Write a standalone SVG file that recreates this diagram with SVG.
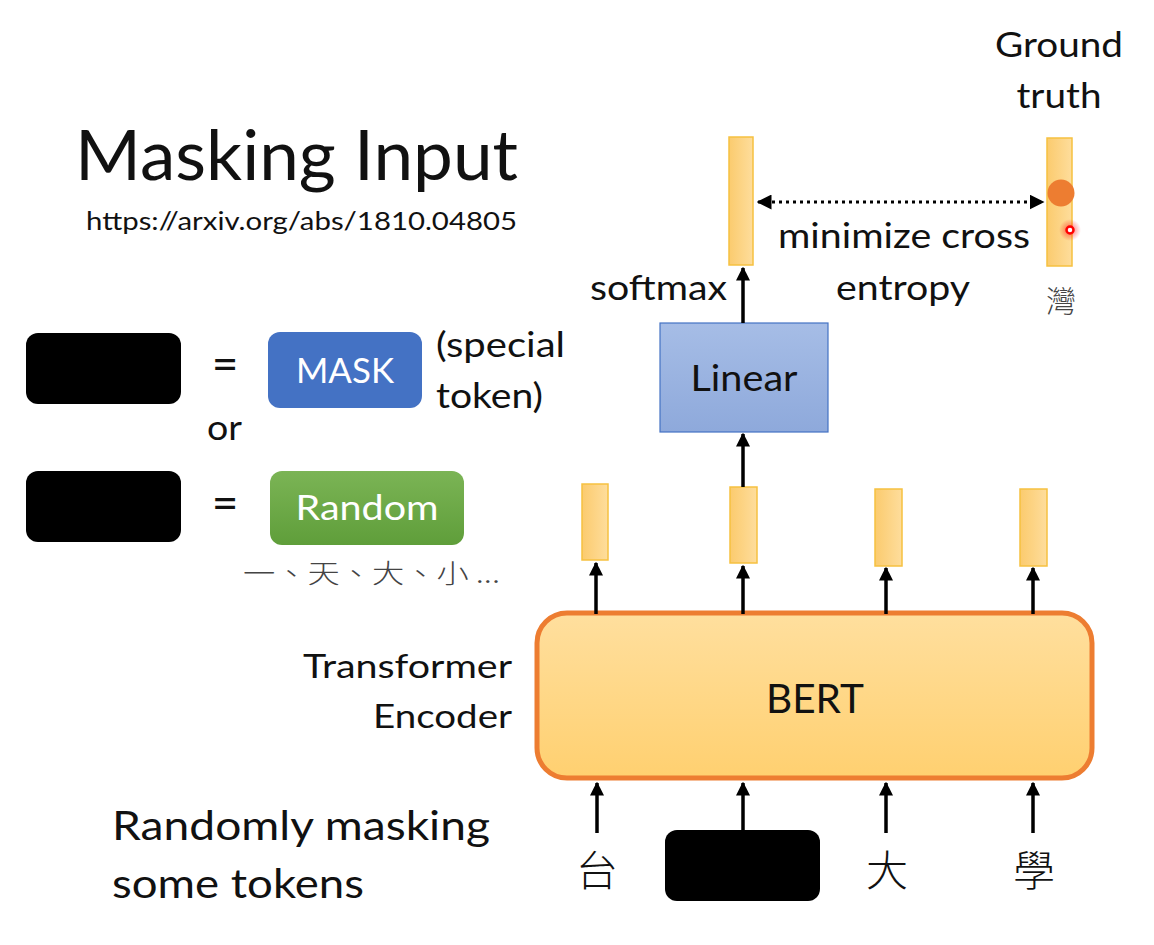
<svg xmlns="http://www.w3.org/2000/svg" width="1154" height="945" viewBox="0 0 1154 945">
<style>
text{font-family:Lato,"Open Sans","Noto Sans CJK TC",sans-serif;fill:#111}
.cjk{font-family:"Noto Sans CJK TC",sans-serif;font-weight:300}
.bar{fill:url(#barG);stroke:#F6C140;stroke-width:1.5}
.blk{fill:#000}
.con{stroke:#000;stroke-width:3.5;fill:none;marker-end:url(#ah)}
.wt{fill:#fff}
.eq{stroke:#111;stroke-width:3.5}
</style>
<defs>
<linearGradient id="barG" x1="0" y1="0" x2="1" y2="0"><stop offset="0" stop-color="#FBCB6E"/><stop offset="1" stop-color="#FEDD9C"/></linearGradient>
<linearGradient id="bertG" x1="0" y1="0" x2="0" y2="1"><stop offset="0" stop-color="#FFDF9E"/><stop offset="1" stop-color="#FFD070"/></linearGradient>
<linearGradient id="linG" x1="0" y1="0" x2="0" y2="1"><stop offset="0" stop-color="#A6BDE6"/><stop offset="1" stop-color="#8EA9DB"/></linearGradient>
<linearGradient id="rndG" x1="0" y1="0" x2="0" y2="1"><stop offset="0" stop-color="#7BB455"/><stop offset="1" stop-color="#5F9E3A"/></linearGradient>
<radialGradient id="glow"><stop offset="0.4" stop-color="#ff0000" stop-opacity="0.35"/><stop offset="1" stop-color="#ff0000" stop-opacity="0"/></radialGradient>
<marker id="ah" viewBox="0 0 10 10" refX="9" refY="5" markerWidth="4" markerHeight="4" orient="auto"><path d="M0,0L10,5L0,10z" fill="#000"/></marker>
<marker id="ad" viewBox="0 0 10 10" refX="9" refY="5" markerWidth="5" markerHeight="5" orient="auto-start-reverse"><path d="M0,0L10,5L0,10z" fill="#000"/></marker>
</defs>

<g id="title">
<text x="75" y="180" font-size="70" textLength="443" lengthAdjust="spacingAndGlyphs">Masking Input</text>
<text x="86" y="230" font-size="25" textLength="431" lengthAdjust="spacingAndGlyphs">https://arxiv.org/abs/1810.04805</text>
</g>

<g id="legend-mask">
<rect class="blk" x="26" y="333" width="155" height="71" rx="12"/>
<text x="225" y="380" font-size="46" text-anchor="middle">=</text>
<rect x="268" y="332" width="154" height="76" rx="12" fill="#4472C4"/>
<text class="wt" x="345" y="383" font-size="34" text-anchor="middle" textLength="98" lengthAdjust="spacingAndGlyphs">MASK</text>
<text x="436" y="357" font-size="34" textLength="129" lengthAdjust="spacingAndGlyphs">(special</text>
<text x="436" y="408" font-size="34" textLength="107" lengthAdjust="spacingAndGlyphs">token)</text>
</g>
<g id="legend-or"><text x="207" y="440" font-size="34" textLength="35" lengthAdjust="spacingAndGlyphs">or</text></g>
<g id="legend-random">
<rect class="blk" x="26" y="471" width="155" height="71" rx="12"/>
<text x="225" y="519" font-size="46" text-anchor="middle">=</text>
<rect x="270" y="471" width="194" height="74" rx="12" fill="url(#rndG)"/>
<text class="wt" x="367" y="520" font-size="34" text-anchor="middle" textLength="143" lengthAdjust="spacingAndGlyphs">Random</text>
<text class="cjk" x="243" y="583" font-size="26" style="fill:#444" textLength="257" lengthAdjust="spacingAndGlyphs">一、天、大、小 ...</text>
</g>

<g id="output-bar"><rect class="bar" x="729" y="137" width="24" height="128"/></g>
<g id="ground-truth">
<text x="1059" y="57" font-size="34" text-anchor="middle" textLength="128" lengthAdjust="spacingAndGlyphs">Ground</text>
<text x="1059" y="108" font-size="34" text-anchor="middle" textLength="85" lengthAdjust="spacingAndGlyphs">truth</text>
<rect class="bar" x="1047" y="138" width="25" height="128"/>
<circle cx="1061" cy="193" r="13.5" fill="#ED7D31"/>
<circle cx="1070" cy="230" r="11" fill="url(#glow)"/>
<circle cx="1070" cy="230" r="3.5" fill="#fff" stroke="#f00" stroke-width="2.5"/>
<text class="cjk" x="1061" y="312" font-size="30" text-anchor="middle" style="fill:#444">灣</text>
</g>
<g id="labels">
<text x="778" y="248" font-size="34" textLength="252" lengthAdjust="spacingAndGlyphs">minimize cross</text>
<text x="836" y="300" font-size="34" textLength="134" lengthAdjust="spacingAndGlyphs">entropy</text>
<text x="590" y="300" font-size="34" textLength="137" lengthAdjust="spacingAndGlyphs">softmax</text>
<text x="512" y="678" font-size="32" text-anchor="end" textLength="209" lengthAdjust="spacingAndGlyphs">Transformer</text>
<text x="512" y="728" font-size="32" text-anchor="end" textLength="139" lengthAdjust="spacingAndGlyphs">Encoder</text>
<text x="112" y="840" font-size="41" textLength="378" lengthAdjust="spacingAndGlyphs">Randomly masking</text>
<text x="112" y="898" font-size="41" textLength="252" lengthAdjust="spacingAndGlyphs">some tokens</text>
</g>

<g id="linear">
<rect x="660" y="323" width="168" height="109" fill="url(#linG)" stroke="#4472C4" stroke-width="1.2"/>
<text x="744" y="391" font-size="36" text-anchor="middle" textLength="107" lengthAdjust="spacingAndGlyphs">Linear</text>
</g>

<g id="hidden-bars">
<rect class="bar" x="582" y="484" width="26" height="76"/>
<rect class="bar" x="730" y="487" width="27" height="76"/>
<rect class="bar" x="875" y="489" width="27" height="77"/>
<rect class="bar" x="1020" y="489" width="27" height="77"/>
</g>

<g id="bert">
<rect x="537" y="613" width="555" height="165" rx="30" fill="url(#bertG)" stroke="#ED7D31" stroke-width="5"/>
<text x="815" y="713" font-size="41" text-anchor="middle" textLength="98" lengthAdjust="spacingAndGlyphs">BERT</text>
</g>

<g id="inputs">
<text class="cjk" x="597" y="886" font-size="42" text-anchor="middle">台</text>
<rect class="blk" x="665" y="830" width="155" height="71" rx="12"/>
<text class="cjk" x="887" y="886" font-size="42" text-anchor="middle">大</text>
<text class="cjk" x="1034" y="886" font-size="42" text-anchor="middle">學</text>
</g>

<g id="connectors">
<line class="con" x1="743" y1="323" x2="743" y2="268"/>
<line class="con" x1="743" y1="487" x2="743" y2="434"/>
<line class="con" x1="596" y1="614" x2="596" y2="563"/>
<line class="con" x1="743" y1="614" x2="743" y2="566"/>
<line class="con" x1="886" y1="614" x2="886" y2="568"/>
<line class="con" x1="1033" y1="614" x2="1033" y2="568"/>
<line class="con" x1="597" y1="833" x2="597" y2="783"/>
<line class="con" x1="743" y1="830" x2="743" y2="783"/>
<line class="con" x1="886" y1="833" x2="886" y2="783"/>
<line class="con" x1="1033" y1="833" x2="1033" y2="783"/>
<line x1="758" y1="202" x2="1043" y2="202" stroke="#000" stroke-width="3" stroke-dasharray="3,4" marker-start="url(#ad)" marker-end="url(#ad)"/>
</g>
</svg>
